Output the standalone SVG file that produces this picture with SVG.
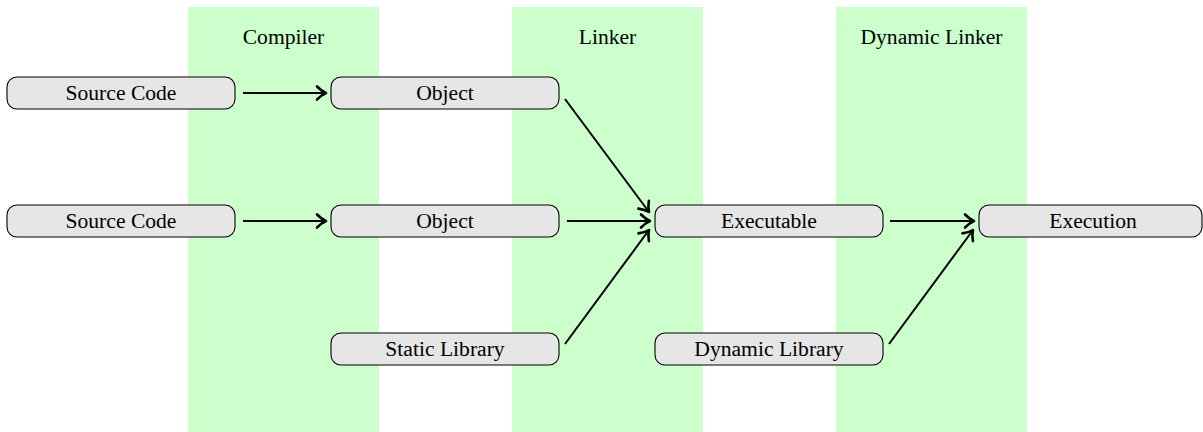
<svg xmlns="http://www.w3.org/2000/svg" width="1203" height="432" viewBox="0 0 1203 432">
  <defs>
    <style>
      .band { fill: #ccffcc; }
      .node rect { fill: #e6e6e6; stroke: #000; stroke-width: 1.1; }
      .edge { stroke: #000; stroke-width: 2; fill: none; marker-end: url(#tip); }
    </style>
    <marker id="tip" markerUnits="userSpaceOnUse" markerWidth="16" markerHeight="16" refX="0" refY="0" viewBox="-12 -8 14 16" orient="auto" overflow="visible">
      <path d="M -9,-6.5 C -5.5,-3 -2.5,-1 0,0 C -2.5,1 -5.5,3 -9,6.5" fill="none" stroke="#000" stroke-width="2.6" stroke-linecap="round" stroke-linejoin="round"/>
    </marker>
  </defs>

  <rect width="1203" height="432" fill="#fff"/>

  <g font-family="Liberation Serif, Times New Roman, DejaVu Serif, serif" font-size="21.6" text-anchor="middle" fill="#000">
    <!-- stage columns -->
    <g id="stage-compiler">
      <rect class="band" x="188" y="7" width="191" height="425"/>
      <text x="283.5" y="44">Compiler</text>
    </g>
    <g id="stage-linker">
      <rect class="band" x="512" y="7" width="191" height="425"/>
      <text x="607.5" y="44">Linker</text>
    </g>
    <g id="stage-dynamic-linker">
      <rect class="band" x="836" y="7" width="191" height="425"/>
      <text x="931.5" y="44">Dynamic Linker</text>
    </g>

    <!-- connectors -->
    <g id="connectors">
      <line class="edge" x1="243" y1="93" x2="326" y2="93"/>
      <line class="edge" x1="243" y1="221" x2="326" y2="221"/>
      <line class="edge" x1="565" y1="99" x2="649" y2="212"/>
      <line class="edge" x1="567" y1="221" x2="650" y2="221"/>
      <line class="edge" x1="565" y1="344" x2="649" y2="230"/>
      <line class="edge" x1="890" y1="221" x2="974" y2="221"/>
      <line class="edge" x1="889" y1="344" x2="973" y2="230"/>
    </g>

    <!-- nodes -->
    <g id="source-code-1" class="node">
      <rect x="7" y="77" width="228" height="32" rx="10"/>
      <text x="121" y="99.5">Source Code</text>
    </g>
    <g id="source-code-2" class="node">
      <rect x="7" y="205" width="228" height="32" rx="10"/>
      <text x="121" y="227.5">Source Code</text>
    </g>
    <g id="object-1" class="node">
      <rect x="331" y="77" width="228" height="32" rx="10"/>
      <text x="445" y="99.5">Object</text>
    </g>
    <g id="object-2" class="node">
      <rect x="331" y="205" width="228" height="32" rx="10"/>
      <text x="445" y="227.5">Object</text>
    </g>
    <g id="static-library" class="node">
      <rect x="331" y="333" width="228" height="32" rx="10"/>
      <text x="445" y="355.5">Static Library</text>
    </g>
    <g id="executable" class="node">
      <rect x="655" y="205" width="228" height="32" rx="10"/>
      <text x="769" y="227.5">Executable</text>
    </g>
    <g id="dynamic-library" class="node">
      <rect x="655" y="333" width="228" height="32" rx="10"/>
      <text x="769" y="355.5">Dynamic Library</text>
    </g>
    <g id="execution" class="node">
      <rect x="979" y="205" width="223" height="32" rx="10"/>
      <text x="1093" y="227.5">Execution</text>
    </g>
  </g>
</svg>
